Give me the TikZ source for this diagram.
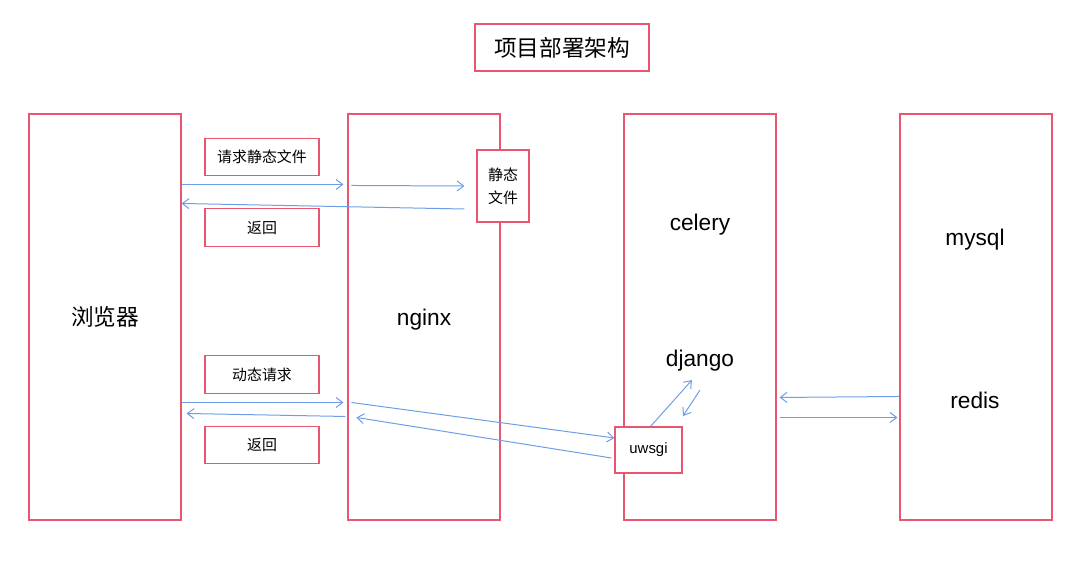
\documentclass[tikz,border=0pt]{standalone}
\usepackage{fontspec}
\setmainfont{Liberation Sans}
\newfontfamily\cjk{Noto Sans CJK SC}
\usetikzlibrary{arrows.meta,positioning,calc}
\definecolor{boxred}{RGB}{233,86,112}
\definecolor{lineblue}{RGB}{110,158,232}

\begin{document}
\begin{tikzpicture}[
    x=0.75pt, y=-0.75pt,
    column/.style={rectangle, draw=boxred, line width=0.8pt, inner sep=0pt, minimum width=114pt, minimum height=304.5pt, font=\fontsize{17}{20}\selectfont},
    msg/.style={rectangle, draw=boxred, fill=white, line width=0.8pt, inner sep=0pt, minimum width=85.5pt, minimum height=28pt, font=\cjk\fontsize{11.2}{13}\selectfont},
    big/.style={font=\fontsize{17}{20}\selectfont},
    arrow/.style={-{Straight Barb[length=5pt,width=7.5pt]}, lineblue, line width=0.75pt}
]
\useasboundingbox (0,0) rectangle (1080,565);

% Title
\node[msg, minimum width=130.5pt, minimum height=35.25pt, font=\cjk\fontsize{17}{20}\selectfont] (title) at (562,47.5) {项目部署架构};

% Columns
\node[column, font=\cjk\fontsize{17}{20}\selectfont] (browser) at (105,317) {浏览器};
\node[column] (nginx) at (424,317) {};
\node[column] (app) at (700,317) {};
\node[column] (store) at (976,317) {};

% Labels inside columns
\node[big] (web) at (424,320) {nginx};
\node[big] (celery) at (700,225) {celery};
\node[big] (django) at (700,361) {django};
\node[big] (mysql) at (975,240) {mysql};
\node[big] (redis) at (975,400) {redis};

% Message boxes
\node[msg] (reqstatic) at (262,157) {请求静态文件};
\node[msg] (backstatic) at (262,227.5) {返回};
\node[msg] (reqdyn) at (262,374.5) {动态请求};
\node[msg] (backdyn) at (262,445) {返回};
\node[msg, minimum width=39pt, minimum height=54pt, align=center, font=\cjk\fontsize{11.2}{17}\selectfont] (static) at (503,186) {静态\\文件};
\node[msg, minimum width=50.25pt, minimum height=34.5pt, font=\fontsize{11.2}{13}\selectfont] (uwsgi) at (648.5,450) {uwsgi};

% Static request
\draw[arrow] ($(browser.north east)+(0,71)$) -- ($(nginx.north west)+(-4,71)$);
\draw[arrow] ($(nginx.north west)+(4,72)$) -- ($(static.west)+(-12,0)$);
\draw[arrow] ($(static.west)+(-12,23)$) -- ($(browser.north east)+(0,90)$);

% Dynamic request
\draw[arrow] ($(browser.north east)+(0,289)$) -- ($(nginx.north west)+(-4,289)$);
\draw[arrow] ($(nginx.north west)+(-2,303)$) -- ($(browser.north east)+(5,300)$);
\draw[arrow] ($(nginx.north west)+(4,289)$) -- ($(uwsgi.west)+(0,-12)$);
\draw[arrow] ($(uwsgi.west)+(-3,8)$) -- ($(nginx.north west)+(9,304)$);

% uwsgi and django
\draw[arrow] ($(uwsgi.north)+(2,0)$) -- ($(django.center)+(-8,19)$);
\draw[arrow] ($(django.center)+(0,29)$) -- ($(django.center)+(-17,55)$);

% app and store
\draw[arrow] ($(store.north west)+(0,283)$) -- ($(app.north east)+(3,284)$);
\draw[arrow] ($(app.north east)+(3,304)$) -- ($(store.north west)+(-2,304)$);

\end{tikzpicture}
\end{document}
